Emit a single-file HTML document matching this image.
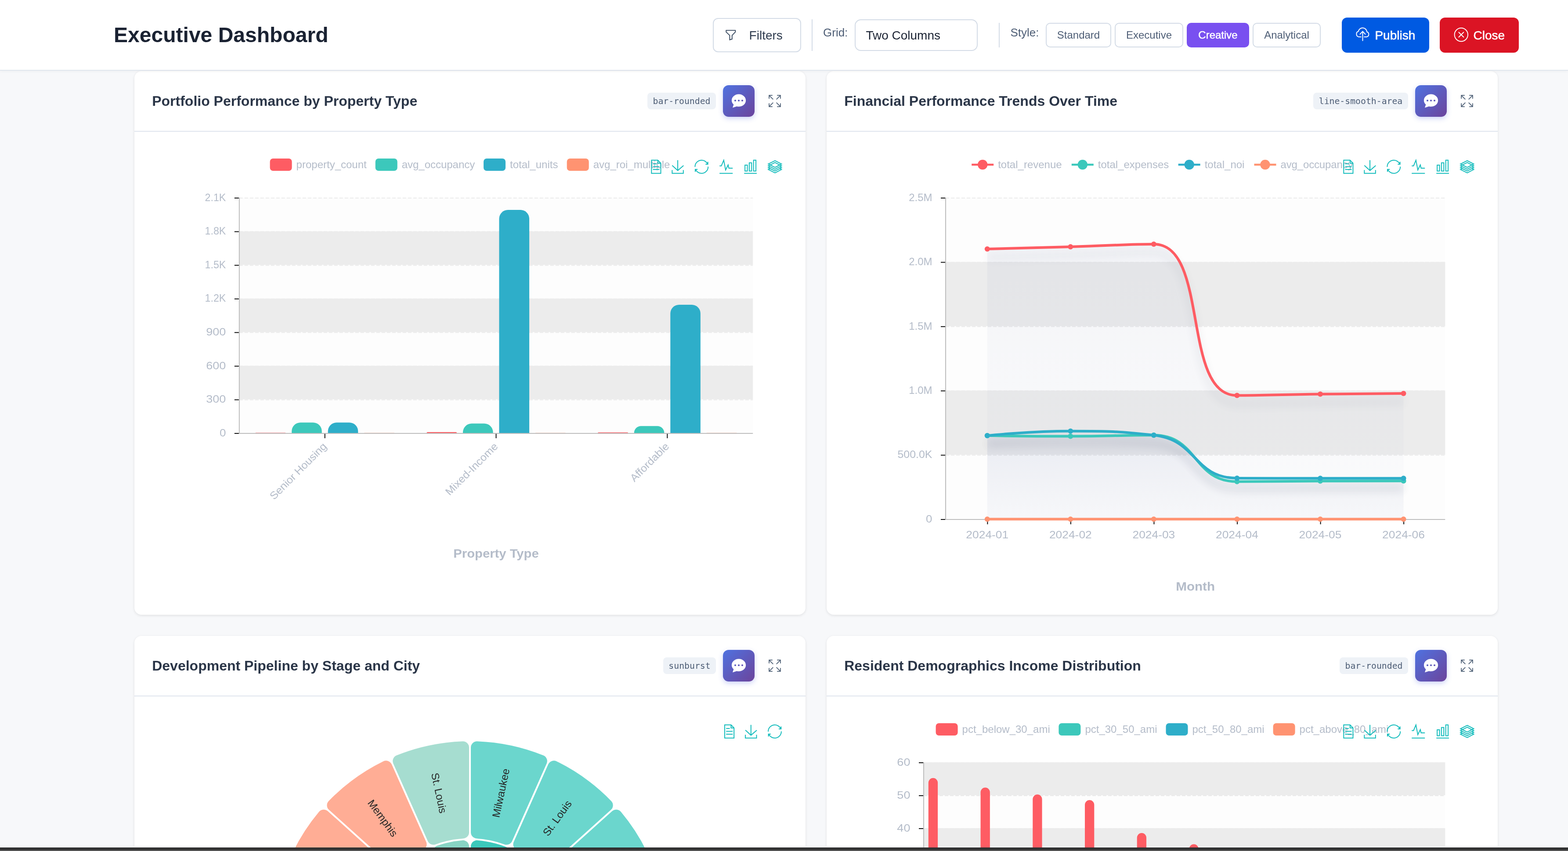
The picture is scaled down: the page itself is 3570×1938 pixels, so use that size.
<!DOCTYPE html>
<html lang="en"><head><meta charset="utf-8">
<title>Executive Dashboard</title>
<style>
*{box-sizing:border-box;margin:0;padding:0}
html,body{width:3570px;height:1938px;overflow:hidden;background:#f7f8fa;font-family:"Liberation Sans", Arial, Helvetica, sans-serif;-webkit-font-smoothing:antialiased}
body{position:relative}
button{font-family:inherit;cursor:pointer}
@media (max-width:1800px){html{zoom:.5}}
.hdr{position:absolute;left:0;top:0;width:3570px;height:161px;background:#fff;border-bottom:2px solid #e0e6ee;box-shadow:0 2px 6px rgba(0,0,0,.04);z-index:5}
.hdr h1{position:absolute;left:259px;top:55.5px;font-size:48px;line-height:48px;font-weight:bold;color:#1a2232;white-space:nowrap;letter-spacing:0.02px}
.btn{position:absolute;display:block;border:2px solid #d3dbe6;background:#fff;border-radius:12px;color:#2d3a4d;white-space:nowrap}
.btn span,.lbl,.sel span{position:absolute;white-space:nowrap}
.vr{position:absolute;width:2px;background:#d3dbe6}
.lbl{font-size:26px;line-height:26px;color:#4d5d75}
.sb{position:absolute;top:52px;height:56px;border:2px solid #d3dbe6;border-radius:10px;background:#fff;font-size:24px;line-height:52px;text-align:center;color:#4d5d75;white-space:nowrap}
.sb.on{background:#7950f0;border-color:#7950f0;color:#fff;-webkit-text-stroke:0.5px #fff}
.big{position:absolute;top:40px;height:80px;border-radius:12px;color:#fff}
.big span{position:absolute;top:24.8px;font-size:28px;line-height:32px;white-space:nowrap;-webkit-text-stroke:0.6px #fff}
.big svg{position:absolute}
.card{position:absolute;width:1528px;height:1238px;background:#fff;border-radius:16px;box-shadow:0 2px 6px rgba(0,0,0,.09),0 0 2px rgba(0,0,0,.03)}
.card .ch{position:absolute;left:0;top:0;width:1528px;height:138px;border-bottom:2px solid #dfe5ee}
.card h3{position:absolute;left:40.2px;top:52px;font-size:32px;line-height:32px;font-weight:bold;color:#2b3648;white-space:nowrap}
.badge{position:absolute;top:49px;height:38px;background:#eef2f7;border-radius:8px;font-family:"DejaVu Sans Mono", "Liberation Mono", monospace;font-size:19.8px;line-height:40px;color:#4d5d75;text-align:center;white-space:nowrap;letter-spacing:0}
.chat{position:absolute;left:1340px;top:32px;width:72px;height:72px;border-radius:13px;background:linear-gradient(135deg,#4f72e0 0%,#6c449c 100%);box-shadow:0 4px 12px rgba(90,110,230,.30)}
.chat svg{position:absolute;left:0;top:0}
.exp{position:absolute;left:1443px;top:53px;width:30px;height:30px}
.card>svg.chart{position:absolute;left:0;top:0;overflow:hidden}
.card>svg.chart text{font-family:"Liberation Sans", Arial, Helvetica, sans-serif}
.glow{position:absolute;left:0;top:1929px;width:3570px;height:1px;background:#151515;mix-blend-mode:color-dodge}
.bot{position:absolute;left:0;top:1930px;width:3570px;height:8px;background:linear-gradient(#1e2022 0,#1e2022 1px,#323232 1px,#343434 5.6px,#5c5c5c 6.2px,#5c5c5c 8px)}
</style></head><body>
<header class="hdr">
<h1>Executive Dashboard</h1>
<button class="btn" style="left:1623px;top:41px;width:201px;height:78px"><svg width="30" height="30" viewBox="0 0 30 30" style="position:absolute;left:24px;top:22px"><path d="M4.3 5.2H26.8V9.3L18.8 17.6V26.5L13 28.400V17.6L4.3 9.300Z" fill="none" stroke="#3a4b61" stroke-width="2.1" stroke-linejoin="miter" transform="translate(0.3 -0.7) scale(0.93)"/></svg><span style="left:80.6px;top:21.5px;font-size:28px;line-height:32px">Filters</span></button>
<div class="vr" style="left:1848px;top:44px;height:72px"></div>
<div class="lbl" style="left:1874px;top:60.6px">Grid:</div>
<div class="btn sel" style="left:1946px;top:44px;width:280px;height:72px;border-radius:14px;color:#1a2232"><span style="left:23.4px;top:18.5px;font-size:28px;line-height:32px">Two Columns</span></div>
<div class="vr" style="left:2274px;top:52px;height:56px"></div>
<div class="lbl" style="left:2300.4px;top:60.6px">Style:</div>
<button class="sb" style="left:2381px;width:149px">Standard</button>
<button class="sb" style="left:2538px;width:156px">Executive</button>
<button class="sb on" style="left:2702px;width:142px">Creative</button>
<button class="sb" style="left:2852px;width:155px">Analytical</button>
<button class="big" style="left:3055px;width:199px;background:#005ae2;border:0"><svg width="40" height="40" viewBox="0 0 40 40" style="left:27px;top:19px"><g fill="none" stroke="#fff" stroke-width="2" stroke-linecap="round" stroke-linejoin="round"><path d="M16.8 24.9H11.8A6.5 6.5 0 0 1 10.9 12.3A9.7 9.7 0 0 1 30.1 13.500A5.9 5.9 0 0 1 29.900 24.9H24.1"/><path d="M20.5 33.6V13.2M14.5 18.9L20.5 12.5L26.5 18.9"/></g></svg><span style="left:75.4px">Publish</span></button>
<button class="big" style="left:3278px;width:180px;background:#db1424;border:0"><svg width="40" height="40" viewBox="0 0 40 40" style="left:28.6px;top:18.9px"><g fill="none" stroke="#fff" stroke-width="1.9" stroke-linecap="round"><circle cx="19.800" cy="20" r="15.2"/><path d="M14.3 14.5L25.3 25.5M25.3 14.5L14.3 25.5"/></g></svg><span style="left:76.5px">Close</span></button>
</header>
<main>
<section class="card" style="left:306px;top:162px"><div class="ch"><h3>Portfolio Performance by Property Type</h3><div class="badge" style="left:1168px;width:156px">bar-rounded</div><div class="chat"><svg width="72" height="72" viewBox="0 0 72 72"><path d="M36 20.6c8.9 0 16.1 6.3 16.1 14.1S44.9 48.8 36 48.8c-1.6 0-3.100-.2-4.500-.6L22 51.200l2.400-7.100c-2.800-2.500-4.500-5.800-4.500-9.400 0-7.800 7.200-14.100 16.100-14.100z" fill="#fff"/><circle cx="28" cy="35" r="2.1" fill="#5a5fc0"/><circle cx="36" cy="35" r="2.1" fill="#5e5bbc"/><circle cx="44" cy="35" r="2.1" fill="#6257b7"/></svg></div><svg class="exp" viewBox="0 0 30 30"><g fill="none" stroke="#4f6177" stroke-width="1.8" stroke-linecap="butt"><path d="M9.800 2.100H2.100V9.800M2.300 2.300L11.300 11.300"/><path d="M20.200 2.100H27.900V9.800M27.700 2.300L18.700 11.300"/><path d="M9.800 27.900H2.100V20.200M2.300 27.700L11.300 18.700"/><path d="M20.200 27.900H27.900V20.200M27.700 27.700L18.700 18.700"/></g></svg></div><svg class="chart" width="1528" height="1238" viewBox="306 162 1528 1238">
<rect x="544.8" y="909.43" width="1169.4" height="76.57" fill="#fdfdfd"/>
<rect x="544.8" y="832.86" width="1169.4" height="76.57" fill="#ececec"/>
<rect x="544.8" y="756.29" width="1169.4" height="76.57" fill="#fdfdfd"/>
<rect x="544.8" y="679.71" width="1169.4" height="76.57" fill="#ececec"/>
<rect x="544.8" y="603.14" width="1169.4" height="76.57" fill="#fdfdfd"/>
<rect x="544.8" y="526.57" width="1169.4" height="76.57" fill="#ececec"/>
<rect x="544.8" y="450" width="1169.4" height="76.57" fill="#fdfdfd"/>
<line x1="544.8" y1="451" x2="1714.2" y2="451" stroke="#ebebeb" stroke-width="2" stroke-dasharray="8 4"/>
<line x1="544.8" y1="527.57" x2="1714.2" y2="527.57" stroke="#ebebeb" stroke-width="2" stroke-dasharray="8 4"/>
<line x1="544.8" y1="604.14" x2="1714.2" y2="604.14" stroke="#ebebeb" stroke-width="2" stroke-dasharray="8 4"/>
<line x1="544.8" y1="680.71" x2="1714.2" y2="680.71" stroke="#ebebeb" stroke-width="2" stroke-dasharray="8 4"/>
<line x1="544.8" y1="757.29" x2="1714.2" y2="757.29" stroke="#ebebeb" stroke-width="2" stroke-dasharray="8 4"/>
<line x1="544.8" y1="833.86" x2="1714.2" y2="833.86" stroke="#ebebeb" stroke-width="2" stroke-dasharray="8 4"/>
<line x1="544.8" y1="910.43" x2="1714.2" y2="910.43" stroke="#ebebeb" stroke-width="2" stroke-dasharray="8 4"/>
<line x1="544.8" y1="450" x2="544.8" y2="988" stroke="#bdbdbd" stroke-width="2"/>
<line x1="544.8" y1="987" x2="1714.2" y2="987" stroke="#bdbdbd" stroke-width="2"/>
<line x1="533.8" y1="451" x2="543.8" y2="451" stroke="#111" stroke-width="2"/>
<text transform="translate(514.3 457.7) scale(0.967 1)" font-size="24" fill="#b4bcc9" text-anchor="end" font-weight="normal">2.1K</text>
<line x1="533.8" y1="527.57" x2="543.8" y2="527.57" stroke="#111" stroke-width="2"/>
<text transform="translate(514.3 534.27) scale(0.967 1)" font-size="24" fill="#b4bcc9" text-anchor="end" font-weight="normal">1.8K</text>
<line x1="533.8" y1="604.14" x2="543.8" y2="604.14" stroke="#111" stroke-width="2"/>
<text transform="translate(514.3 610.84) scale(0.967 1)" font-size="24" fill="#b4bcc9" text-anchor="end" font-weight="normal">1.5K</text>
<line x1="533.8" y1="680.71" x2="543.8" y2="680.71" stroke="#111" stroke-width="2"/>
<text transform="translate(514.3 687.41) scale(0.967 1)" font-size="24" fill="#b4bcc9" text-anchor="end" font-weight="normal">1.2K</text>
<line x1="533.8" y1="757.29" x2="543.8" y2="757.29" stroke="#111" stroke-width="2"/>
<text transform="translate(514.3 763.99) scale(1.125 1)" font-size="24" fill="#b4bcc9" text-anchor="end" font-weight="normal">900</text>
<line x1="533.8" y1="833.86" x2="543.8" y2="833.86" stroke="#111" stroke-width="2"/>
<text transform="translate(514.3 840.56) scale(1.125 1)" font-size="24" fill="#b4bcc9" text-anchor="end" font-weight="normal">600</text>
<line x1="533.8" y1="910.43" x2="543.8" y2="910.43" stroke="#111" stroke-width="2"/>
<text transform="translate(514.3 917.13) scale(1.125 1)" font-size="24" fill="#b4bcc9" text-anchor="end" font-weight="normal">300</text>
<line x1="533.8" y1="987" x2="543.8" y2="987" stroke="#111" stroke-width="2"/>
<text transform="translate(514.3 993.7) scale(1.080 1)" font-size="24" fill="#b4bcc9" text-anchor="end" font-weight="normal">0</text>
<line x1="739.7" y1="988" x2="739.7" y2="998" stroke="#111" stroke-width="2"/>
<line x1="1129.5" y1="988" x2="1129.5" y2="998" stroke="#111" stroke-width="2"/>
<line x1="1519.3" y1="988" x2="1519.3" y2="998" stroke="#111" stroke-width="2"/>
<path d="M581.65 986V986A0.38 0.38 0 0 1 582.03 985.62H649.87A0.38 0.38 0 0 1 650.25 986V986Z" fill="#fe5c63"/>
<path d="M664.15 986V982.26A20 20 0 0 1 684.15 962.26H712.75A20 20 0 0 1 732.75 982.26V986Z" fill="#3cc8bb"/>
<path d="M746.65 986V982.26A20 20 0 0 1 766.65 962.26H795.25A20 20 0 0 1 815.25 982.26V986Z" fill="#2eaec9"/>
<path d="M829.15 986V986A0.2 0.2 0 0 1 829.35 985.8H897.55A0.2 0.2 0 0 1 897.75 986V986Z" fill="#ff9371"/>
<path d="M971.45 986V986A2.04 2.04 0 0 1 973.49 983.96H1038.01A2.04 2.04 0 0 1 1040.05 986V986Z" fill="#fe5c63"/>
<path d="M1053.95 986V984.56A20 20 0 0 1 1073.95 964.56H1102.55A20 20 0 0 1 1122.55 984.56V986Z" fill="#3cc8bb"/>
<path d="M1136.45 986V498.08A20 20 0 0 1 1156.45 478.08H1185.05A20 20 0 0 1 1205.05 498.08V986Z" fill="#2eaec9"/>
<path d="M1218.95 986V986A0.2 0.2 0 0 1 1219.15 985.8H1287.35A0.2 0.2 0 0 1 1287.55 986V986Z" fill="#ff9371"/>
<path d="M1361.25 986V986A1.15 1.15 0 0 1 1362.4 984.85H1428.7A1.15 1.15 0 0 1 1429.85 986V986Z" fill="#fe5c63"/>
<path d="M1443.75 986V986A15.82 15.82 0 0 1 1459.57 970.18H1496.53A15.82 15.82 0 0 1 1512.35 986V986Z" fill="#3cc8bb"/>
<path d="M1526.25 986V714.01A20 20 0 0 1 1546.25 694.01H1574.85A20 20 0 0 1 1594.85 714.01V986Z" fill="#2eaec9"/>
<path d="M1608.75 986V986A0.2 0.2 0 0 1 1608.95 985.8H1677.15A0.2 0.2 0 0 1 1677.35 986V986Z" fill="#ff9371"/>
<text transform="translate(739.2 1012) rotate(-45) scale(1.045 1)" font-size="24" fill="#b4bcc9" text-anchor="end" x="0" y="8.6">Senior Housing</text>
<text transform="translate(1129 1012) rotate(-45) scale(1.045 1)" font-size="24" fill="#b4bcc9" text-anchor="end" x="0" y="8.6">Mixed-Income</text>
<text transform="translate(1518.8 1012) rotate(-45) scale(1.045 1)" font-size="24" fill="#b4bcc9" text-anchor="end" x="0" y="8.6">Affordable</text>
<text transform="translate(1129.5 1270.2) scale(1.045 1)" font-size="28" fill="#b4bcc9" text-anchor="middle" font-weight="bold">Property Type</text>
<rect x="614.6" y="361" width="50" height="28" rx="7" fill="#fe5c63"/>
<text x="674.6" y="382.9" font-size="24" fill="#b4bcc9" text-anchor="start" font-weight="normal">property_count</text>
<rect x="854.7" y="361" width="50" height="28" rx="7" fill="#3cc8bb"/>
<text x="914.7" y="382.9" font-size="24" fill="#b4bcc9" text-anchor="start" font-weight="normal" textLength="166.5" lengthAdjust="spacing">avg_occupancy</text>
<rect x="1101" y="361" width="50" height="28" rx="7" fill="#2eaec9"/>
<text x="1161" y="382.9" font-size="24" fill="#b4bcc9" text-anchor="start" font-weight="normal">total_units</text>
<rect x="1290.7" y="361" width="50" height="28" rx="7" fill="#ff9371"/>
<text x="1350.7" y="382.9" font-size="24" fill="#b4bcc9" text-anchor="start" font-weight="normal">avg_roi_multiple</text>
<path d="M17.5,17.3H33 M17.5,17.3H33 M45.4,29.5h-28 M11.5,2v56H51V14.8L38.4,2H11.5z M38.4,2.2v12.7H51 M45.4,41.7h-28" transform="translate(1477.16 363.73) scale(0.5357)" fill="none" stroke="#13bcbc" stroke-width="3.73" stroke-linecap="butt" stroke-linejoin="miter"/>
<path d="M4.7,22.9L29.3,45.5L54.7,23.4M4.6,43.6L4.6,58L53.8,58L53.8,43.6M29.2,45.1L29.2,0" transform="translate(1527.96 364.8) scale(0.5172)" fill="none" stroke="#13bcbc" stroke-width="3.87" stroke-linecap="butt" stroke-linejoin="miter"/>
<path d="M3.8,33.4 M47,18.9h9.8V8.7 M56.3,20.1 C52.1,9,40.5,0.6,26.8,2.1C12.6,3.7,1.6,16.2,2.1,30.6 M13,41.1H3.1v10.2 M3.7,39.9c4.2,11.1,15.8,19.5,29.5,18 c14.2-1.6,25.2-14.1,24.7-28.5" transform="translate(1581.29 363.79) scale(0.5338)" fill="none" stroke="#13bcbc" stroke-width="3.75" stroke-linecap="butt" stroke-linejoin="miter"/>
<path d="M4.1,28.9h7.1l9.3-22l7.4,38l9.7-19.7l3,12.8h14.9M4.1,58h51.4" transform="translate(1635.81 360.86) scale(0.5837)" fill="none" stroke="#13bcbc" stroke-width="3.43" stroke-linecap="butt" stroke-linejoin="miter"/>
<path d="M6.7,22.9h10V48h-10V22.9zM24.9,13h10v35h-10V13zM43.2,2h10v46h-10V2zM3.1,58h53.7" transform="translate(1692.56 363.73) scale(0.5357)" fill="none" stroke="#13bcbc" stroke-width="3.73" stroke-linecap="butt" stroke-linejoin="miter"/>
<path d="M8.2,38.4l-8.4,4.1l30.6,15.3L60,42.5l-8.1-4.1l-21.5,11L8.2,38.4z M51.9,30l-8.1,4.2l-13.4,6.9l-13.9-6.9L8.2,30l-8.4,4.2l8.4,4.2l22.2,11l21.5-11l8.1-4.2L51.9,30z M51.9,21.7l-8.1,4.2L35.7,30l-5.3,2.8L24.9,30l-8.4-4.1l-8.3-4.2l-8.4,4.2L8.2,30l8.3,4.2l13.9,6.9l13.4-6.9l8.1-4.2l8.1-4.1L51.9,21.7zm-8.1,4.2l-8.1,4.2l-5.3,2.7L24.9,30l-8.4-4.1L8.2,21.7l22.2-11l21.5,11L43.8,25.9z M30.4,2.2L-0.2,17.5l8.4,4.1l8.3,4.2l8.4,4.2l5.5,2.7l5.3-2.7l8.1-4.2l8.1-4.2l8.1-4.1L30.4,2.2z" transform="translate(1749.4 364.85) scale(0.4983)" fill="none" stroke="#13bcbc" stroke-width="4.01" stroke-linecap="butt" stroke-linejoin="miter"/></svg></section>
<section class="card" style="left:1882px;top:162px"><div class="ch"><h3>Financial Performance Trends Over Time</h3><div class="badge" style="left:1108px;width:216px">line-smooth-area</div><div class="chat"><svg width="72" height="72" viewBox="0 0 72 72"><path d="M36 20.6c8.9 0 16.1 6.3 16.1 14.1S44.9 48.8 36 48.8c-1.6 0-3.100-.2-4.500-.6L22 51.200l2.400-7.100c-2.800-2.500-4.500-5.800-4.500-9.400 0-7.800 7.200-14.100 16.100-14.100z" fill="#fff"/><circle cx="28" cy="35" r="2.1" fill="#5a5fc0"/><circle cx="36" cy="35" r="2.1" fill="#5e5bbc"/><circle cx="44" cy="35" r="2.1" fill="#6257b7"/></svg></div><svg class="exp" viewBox="0 0 30 30"><g fill="none" stroke="#4f6177" stroke-width="1.8" stroke-linecap="butt"><path d="M9.800 2.100H2.100V9.800M2.300 2.300L11.300 11.300"/><path d="M20.200 2.100H27.900V9.800M27.700 2.300L18.700 11.300"/><path d="M9.800 27.900H2.100V20.200M2.300 27.700L11.300 18.700"/><path d="M20.200 27.900H27.900V20.200M27.700 27.700L18.700 18.700"/></g></svg></div><svg class="chart" width="1528" height="1238" viewBox="1882 162 1528 1238"><defs>
<linearGradient id="ag0" x1="0" y1="0" x2="0" y2="1"><stop offset="0" stop-color="#52649f" stop-opacity="0.056"/><stop offset="1" stop-color="#52649f" stop-opacity="0.013"/></linearGradient>
<linearGradient id="ag1" x1="0" y1="0" x2="0" y2="1"><stop offset="0" stop-color="#52649f" stop-opacity="0.046"/><stop offset="1" stop-color="#52649f" stop-opacity="0.012"/></linearGradient>
<linearGradient id="ag2" x1="0" y1="0" x2="0" y2="1"><stop offset="0" stop-color="#52649f" stop-opacity="0.046"/><stop offset="1" stop-color="#52649f" stop-opacity="0.012"/></linearGradient>
<filter id="lsh" filterUnits="userSpaceOnUse" x="2100" y="380" width="1300" height="900"><feGaussianBlur stdDeviation="9.5"/></filter>
</defs>
<rect x="2153" y="1035.6" width="1137.3" height="146.4" fill="#fdfdfd"/>
<rect x="2153" y="889.2" width="1137.3" height="146.4" fill="#ececec"/>
<rect x="2153" y="742.8" width="1137.3" height="146.4" fill="#fdfdfd"/>
<rect x="2153" y="596.4" width="1137.3" height="146.4" fill="#ececec"/>
<rect x="2153" y="450" width="1137.3" height="146.4" fill="#fdfdfd"/>
<line x1="2153" y1="451" x2="3290.3" y2="451" stroke="#ebebeb" stroke-width="2" stroke-dasharray="8 4"/>
<line x1="2153" y1="597.4" x2="3290.3" y2="597.4" stroke="#ebebeb" stroke-width="2" stroke-dasharray="8 4"/>
<line x1="2153" y1="743.8" x2="3290.3" y2="743.8" stroke="#ebebeb" stroke-width="2" stroke-dasharray="8 4"/>
<line x1="2153" y1="890.2" x2="3290.3" y2="890.2" stroke="#ebebeb" stroke-width="2" stroke-dasharray="8 4"/>
<line x1="2153" y1="1036.6" x2="3290.3" y2="1036.6" stroke="#ebebeb" stroke-width="2" stroke-dasharray="8 4"/>
<line x1="2153" y1="450" x2="2153" y2="1184" stroke="#bdbdbd" stroke-width="2"/>
<line x1="2153" y1="1183" x2="3290.3" y2="1183" stroke="#bdbdbd" stroke-width="2"/>
<line x1="2142" y1="451" x2="2152" y2="451" stroke="#111" stroke-width="2"/>
<text transform="translate(2122.5 457.7) scale(1.000 1)" font-size="24" fill="#b4bcc9" text-anchor="end" font-weight="normal">2.5M</text>
<line x1="2142" y1="597.4" x2="2152" y2="597.4" stroke="#111" stroke-width="2"/>
<text transform="translate(2122.5 604.1) scale(1.000 1)" font-size="24" fill="#b4bcc9" text-anchor="end" font-weight="normal">2.0M</text>
<line x1="2142" y1="743.8" x2="2152" y2="743.8" stroke="#111" stroke-width="2"/>
<text transform="translate(2122.5 750.5) scale(1.000 1)" font-size="24" fill="#b4bcc9" text-anchor="end" font-weight="normal">1.5M</text>
<line x1="2142" y1="890.2" x2="2152" y2="890.2" stroke="#111" stroke-width="2"/>
<text transform="translate(2122.5 896.9) scale(1.000 1)" font-size="24" fill="#b4bcc9" text-anchor="end" font-weight="normal">1.0M</text>
<line x1="2142" y1="1036.6" x2="2152" y2="1036.6" stroke="#111" stroke-width="2"/>
<text transform="translate(2122.5 1043.3) scale(1.040 1)" font-size="24" fill="#b4bcc9" text-anchor="end" font-weight="normal">500.0K</text>
<line x1="2142" y1="1183" x2="2152" y2="1183" stroke="#111" stroke-width="2"/>
<text transform="translate(2122.5 1189.7) scale(1.080 1)" font-size="24" fill="#b4bcc9" text-anchor="end" font-weight="normal">0</text>
<line x1="2248.38" y1="1184" x2="2248.38" y2="1194" stroke="#111" stroke-width="2"/>
<line x1="2437.92" y1="1184" x2="2437.92" y2="1194" stroke="#111" stroke-width="2"/>
<line x1="2627.47" y1="1184" x2="2627.47" y2="1194" stroke="#111" stroke-width="2"/>
<line x1="2817.03" y1="1184" x2="2817.03" y2="1194" stroke="#111" stroke-width="2"/>
<line x1="3006.58" y1="1184" x2="3006.58" y2="1194" stroke="#111" stroke-width="2"/>
<line x1="3196.13" y1="1184" x2="3196.13" y2="1194" stroke="#111" stroke-width="2"/>
<path d="M2247.78 567C2247.78 567 2342.56 564.75 2437.32 562C2532.11 559.25 2565.21 556 2626.88 556C2754.76 556 2688.53 900.6 2816.43 900.6C2878.08 900.6 2911.2 898.65 3005.98 897.5C3100.75 896.35 3195.53 896 3195.53 896L3195.53 1183L2247.78 1183Z" fill="url(#ag0)"/>
<path d="M2247.78 992.1C2247.78 992.1 2342.55 993.6 2437.32 993.6C2532.1 993.6 2538.5 991 2626.88 991C2728.05 991 2715.25 1096.7 2816.43 1096.7C2904.8 1096.7 2911.2 1095.9 3005.98 1095.6C3100.75 1095.3 3195.53 1095.3 3195.53 1095.3L3195.53 1183L2247.78 1183Z" fill="url(#ag1)"/>
<path d="M2247.78 992.1C2247.78 992.1 2342.54 981.8 2437.32 981.8C2532.09 981.8 2537.64 981.8 2626.88 991C2727.19 1001.34 2716.05 1088.56 2816.43 1088.9C2905.6 1089.2 2911.2 1089.2 3005.98 1089.2C3100.75 1089.2 3195.53 1089.2 3195.53 1089.2L3195.53 1183L2247.78 1183Z" fill="url(#ag2)"/>
<g opacity="0.078"><path d="M2247.78 567C2247.78 567 2342.56 564.75 2437.32 562C2532.11 559.25 2565.21 556 2626.88 556C2754.76 556 2688.53 900.6 2816.43 900.6C2878.08 900.6 2911.2 898.65 3005.98 897.5C3100.75 896.35 3195.53 896 3195.53 896" fill="none" stroke="#3b4460" stroke-width="12" transform="translate(0 19)" filter="url(#lsh)"/></g><g opacity="0.078"><path d="M2247.78 992.1C2247.78 992.1 2342.55 993.6 2437.32 993.6C2532.1 993.6 2538.5 991 2626.88 991C2728.05 991 2715.25 1096.7 2816.43 1096.7C2904.8 1096.7 2911.2 1095.9 3005.98 1095.6C3100.75 1095.3 3195.53 1095.3 3195.53 1095.3" fill="none" stroke="#3b4460" stroke-width="12" transform="translate(0 19)" filter="url(#lsh)"/></g><g opacity="0.078"><path d="M2247.78 992.1C2247.78 992.1 2342.54 981.8 2437.32 981.8C2532.09 981.8 2537.64 981.8 2626.88 991C2727.19 1001.34 2716.05 1088.56 2816.43 1088.9C2905.6 1089.2 2911.2 1089.2 3005.98 1089.2C3100.75 1089.2 3195.53 1089.2 3195.53 1089.2" fill="none" stroke="#3b4460" stroke-width="12" transform="translate(0 19)" filter="url(#lsh)"/></g>
<path d="M2247.78 567C2247.78 567 2342.56 564.75 2437.32 562C2532.11 559.25 2565.21 556 2626.88 556C2754.76 556 2688.53 900.6 2816.43 900.6C2878.08 900.6 2911.2 898.65 3005.98 897.5C3100.75 896.35 3195.53 896 3195.53 896" fill="none" stroke="#fe5c63" stroke-width="6" stroke-linejoin="round" stroke-linecap="butt"/>
<path d="M2247.78 992.1C2247.78 992.1 2342.55 993.6 2437.32 993.6C2532.1 993.6 2538.5 991 2626.88 991C2728.05 991 2715.25 1096.7 2816.43 1096.7C2904.8 1096.7 2911.2 1095.9 3005.98 1095.6C3100.75 1095.3 3195.53 1095.3 3195.53 1095.3" fill="none" stroke="#3cc8bb" stroke-width="6" stroke-linejoin="round" stroke-linecap="butt"/>
<path d="M2247.78 992.1C2247.78 992.1 2342.54 981.8 2437.32 981.8C2532.09 981.8 2537.64 981.8 2626.88 991C2727.19 1001.34 2716.05 1088.56 2816.43 1088.9C2905.6 1089.2 2911.2 1089.2 3005.98 1089.2C3100.75 1089.2 3195.53 1089.2 3195.53 1089.2" fill="none" stroke="#2eaec9" stroke-width="6" stroke-linejoin="round" stroke-linecap="butt"/>
<path d="M2247.78 1182.3C2247.78 1182.3 2342.55 1182.3 2437.32 1182.3C2532.1 1182.3 2532.1 1182.3 2626.88 1182.3C2721.65 1182.3 2721.65 1182.3 2816.43 1182.3C2911.2 1182.3 2911.2 1182.3 3005.98 1182.3C3100.75 1182.3 3195.53 1182.3 3195.53 1182.3" fill="none" stroke="#ff9371" stroke-width="6" stroke-linejoin="round" stroke-linecap="butt"/>
<circle cx="2247.78" cy="567" r="6" fill="#fe5c63"/>
<circle cx="2437.32" cy="562" r="6" fill="#fe5c63"/>
<circle cx="2626.88" cy="556" r="6" fill="#fe5c63"/>
<circle cx="2816.43" cy="900.6" r="6" fill="#fe5c63"/>
<circle cx="3005.98" cy="897.5" r="6" fill="#fe5c63"/>
<circle cx="3195.53" cy="896" r="6" fill="#fe5c63"/>
<circle cx="2247.78" cy="992.1" r="6" fill="#3cc8bb"/>
<circle cx="2437.32" cy="993.6" r="6" fill="#3cc8bb"/>
<circle cx="2626.88" cy="991" r="6" fill="#3cc8bb"/>
<circle cx="2816.43" cy="1096.7" r="6" fill="#3cc8bb"/>
<circle cx="3005.98" cy="1095.6" r="6" fill="#3cc8bb"/>
<circle cx="3195.53" cy="1095.3" r="6" fill="#3cc8bb"/>
<circle cx="2247.78" cy="992.1" r="6" fill="#2eaec9"/>
<circle cx="2437.32" cy="981.8" r="6" fill="#2eaec9"/>
<circle cx="2626.88" cy="991" r="6" fill="#2eaec9"/>
<circle cx="2816.43" cy="1088.9" r="6" fill="#2eaec9"/>
<circle cx="3005.98" cy="1089.2" r="6" fill="#2eaec9"/>
<circle cx="3195.53" cy="1089.2" r="6" fill="#2eaec9"/>
<circle cx="2247.78" cy="1182.3" r="6" fill="#ff9371"/>
<circle cx="2437.32" cy="1182.3" r="6" fill="#ff9371"/>
<circle cx="2626.88" cy="1182.3" r="6" fill="#ff9371"/>
<circle cx="2816.43" cy="1182.3" r="6" fill="#ff9371"/>
<circle cx="3005.98" cy="1182.3" r="6" fill="#ff9371"/>
<circle cx="3195.53" cy="1182.3" r="6" fill="#ff9371"/>
<text transform="translate(2247.78 1226.2) scale(1.100 1)" font-size="24" fill="#b4bcc9" text-anchor="middle" font-weight="normal">2024-01</text>
<text transform="translate(2437.32 1226.2) scale(1.100 1)" font-size="24" fill="#b4bcc9" text-anchor="middle" font-weight="normal">2024-02</text>
<text transform="translate(2626.88 1226.2) scale(1.100 1)" font-size="24" fill="#b4bcc9" text-anchor="middle" font-weight="normal">2024-03</text>
<text transform="translate(2816.43 1226.2) scale(1.100 1)" font-size="24" fill="#b4bcc9" text-anchor="middle" font-weight="normal">2024-04</text>
<text transform="translate(3005.98 1226.2) scale(1.100 1)" font-size="24" fill="#b4bcc9" text-anchor="middle" font-weight="normal">2024-05</text>
<text transform="translate(3195.53 1226.2) scale(1.100 1)" font-size="24" fill="#b4bcc9" text-anchor="middle" font-weight="normal">2024-06</text>
<text transform="translate(2721.65 1344.6) scale(1.060 1)" font-size="28" fill="#b4bcc9" text-anchor="middle" font-weight="bold">Month</text>
<line x1="2212.2" y1="375" x2="2262.2" y2="375" stroke="#fe5c63" stroke-width="4.6"/>
<circle cx="2237.2" cy="375" r="11.2" fill="#fe5c63"/>
<text x="2272.2" y="382.9" font-size="24" fill="#b4bcc9" text-anchor="start" font-weight="normal">total_revenue</text>
<line x1="2439.8" y1="375" x2="2489.8" y2="375" stroke="#3cc8bb" stroke-width="4.6"/>
<circle cx="2464.8" cy="375" r="11.2" fill="#3cc8bb"/>
<text x="2499.8" y="382.9" font-size="24" fill="#b4bcc9" text-anchor="start" font-weight="normal">total_expenses</text>
<line x1="2682.7" y1="375" x2="2732.7" y2="375" stroke="#2eaec9" stroke-width="4.6"/>
<circle cx="2707.7" cy="375" r="11.2" fill="#2eaec9"/>
<text x="2742.7" y="382.9" font-size="24" fill="#b4bcc9" text-anchor="start" font-weight="normal">total_noi</text>
<line x1="2855.5" y1="375" x2="2905.5" y2="375" stroke="#ff9371" stroke-width="4.6"/>
<circle cx="2880.5" cy="375" r="11.2" fill="#ff9371"/>
<text x="2915.5" y="382.9" font-size="24" fill="#b4bcc9" text-anchor="start" font-weight="normal" textLength="165" lengthAdjust="spacing">avg_occupancy</text>
<path d="M17.5,17.3H33 M17.5,17.3H33 M45.4,29.5h-28 M11.5,2v56H51V14.8L38.4,2H11.5z M38.4,2.2v12.7H51 M45.4,41.7h-28" transform="translate(3053.16 363.73) scale(0.5357)" fill="none" stroke="#13bcbc" stroke-width="3.73" stroke-linecap="butt" stroke-linejoin="miter"/>
<path d="M4.7,22.9L29.3,45.5L54.7,23.4M4.6,43.6L4.6,58L53.8,58L53.8,43.6M29.2,45.1L29.2,0" transform="translate(3103.96 364.8) scale(0.5172)" fill="none" stroke="#13bcbc" stroke-width="3.87" stroke-linecap="butt" stroke-linejoin="miter"/>
<path d="M3.8,33.4 M47,18.9h9.8V8.7 M56.3,20.1 C52.1,9,40.5,0.6,26.8,2.1C12.6,3.7,1.6,16.2,2.1,30.6 M13,41.1H3.1v10.2 M3.7,39.9c4.2,11.1,15.8,19.5,29.5,18 c14.2-1.6,25.2-14.1,24.7-28.5" transform="translate(3157.29 363.79) scale(0.5338)" fill="none" stroke="#13bcbc" stroke-width="3.75" stroke-linecap="butt" stroke-linejoin="miter"/>
<path d="M4.1,28.9h7.1l9.3-22l7.4,38l9.7-19.7l3,12.8h14.9M4.1,58h51.4" transform="translate(3211.81 360.86) scale(0.5837)" fill="none" stroke="#13bcbc" stroke-width="3.43" stroke-linecap="butt" stroke-linejoin="miter"/>
<path d="M6.7,22.9h10V48h-10V22.9zM24.9,13h10v35h-10V13zM43.2,2h10v46h-10V2zM3.1,58h53.7" transform="translate(3268.56 363.73) scale(0.5357)" fill="none" stroke="#13bcbc" stroke-width="3.73" stroke-linecap="butt" stroke-linejoin="miter"/>
<path d="M8.2,38.4l-8.4,4.1l30.6,15.3L60,42.5l-8.1-4.1l-21.5,11L8.2,38.4z M51.9,30l-8.1,4.2l-13.4,6.9l-13.9-6.9L8.2,30l-8.4,4.2l8.4,4.2l22.2,11l21.5-11l8.1-4.2L51.9,30z M51.9,21.7l-8.1,4.2L35.7,30l-5.3,2.8L24.9,30l-8.4-4.1l-8.3-4.2l-8.4,4.2L8.2,30l8.3,4.2l13.9,6.9l13.4-6.9l8.1-4.2l8.1-4.1L51.9,21.7zm-8.1,4.2l-8.1,4.2l-5.3,2.7L24.9,30l-8.4-4.1L8.2,21.7l22.2-11l21.5,11L43.8,25.9z M30.4,2.2L-0.2,17.5l8.4,4.1l8.3,4.2l8.4,4.2l5.5,2.7l5.3-2.7l8.1-4.2l8.1-4.2l8.1-4.1L30.4,2.2z" transform="translate(3325.4 364.85) scale(0.4983)" fill="none" stroke="#13bcbc" stroke-width="4.01" stroke-linecap="butt" stroke-linejoin="miter"/></svg></section>
<section class="card" style="left:306px;top:1448px"><div class="ch"><h3>Development Pipeline by Stage and City</h3><div class="badge" style="left:1204px;width:120px">sunburst</div><div class="chat"><svg width="72" height="72" viewBox="0 0 72 72"><path d="M36 20.6c8.9 0 16.1 6.3 16.1 14.1S44.9 48.8 36 48.8c-1.6 0-3.100-.2-4.500-.6L22 51.200l2.400-7.100c-2.800-2.500-4.500-5.800-4.500-9.400 0-7.800 7.200-14.100 16.100-14.100z" fill="#fff"/><circle cx="28" cy="35" r="2.1" fill="#5a5fc0"/><circle cx="36" cy="35" r="2.1" fill="#5e5bbc"/><circle cx="44" cy="35" r="2.1" fill="#6257b7"/></svg></div><svg class="exp" viewBox="0 0 30 30"><g fill="none" stroke="#4f6177" stroke-width="1.8" stroke-linecap="butt"><path d="M9.800 2.100H2.100V9.800M2.300 2.300L11.300 11.300"/><path d="M20.200 2.100H27.900V9.800M27.700 2.300L18.700 11.300"/><path d="M9.800 27.900H2.100V20.200M2.300 27.700L11.300 18.700"/><path d="M20.200 27.900H27.900V20.200M27.700 27.700L18.700 18.700"/></g></svg></div><svg class="chart" width="1528" height="1238" viewBox="306 1448 1528 1238">
<path d="M1069.23 2134.07L862.55 2155.79A14 14 0 0 1 847.09 2142.26A223 223 0 0 1 963.97 1939.82A14 14 0 0 1 983.41 1946.44L1067.94 2136.3A14 14 0 0 1 1068.14 2136.75A2.01 2.01 0 0 0 1069.72 2134.01A14 14 0 0 1 1069.23 2134.07Z" fill="#ff9371"/>
<path d="M1071.6 2134.67L987.07 1944.82A14 14 0 0 1 995.16 1925.93A223 223 0 0 1 1052.93 1913.65A14 14 0 0 1 1068 1927.61L1068 2135.43A14 14 0 0 1 1067.99 2135.93A2.01 2.01 0 0 0 1071.81 2135.12A14 14 0 0 1 1071.6 2134.67Z" fill="#88d4c4"/>
<path d="M1072 2135.43L1072 1927.61A14 14 0 0 1 1087.07 1913.65A223 223 0 0 1 1292.91 2142.26A14 14 0 0 1 1277.45 2155.79L1070.77 2134.07A14 14 0 0 1 1070.28 2134.01A2.01 2.01 0 0 0 1072.01 2135.93A14 14 0 0 1 1072 2135.43Z" fill="#3cc8bb"/>
<path d="M841.92 2059.79L658.14 2000.08A14 14 0 0 1 649.32 1981.95A448 448 0 0 1 726.25 1848.71A14 14 0 0 1 746.36 1847.28L889.96 1976.58A14 14 0 0 1 891.59 1995.64A227 227 0 0 0 859.24 2051.67A14 14 0 0 1 841.92 2059.79Z" fill="#ffad95"/>
<path d="M892.64 1973.61L749.03 1844.31A14 14 0 0 1 748.35 1824.16A448 448 0 0 1 872.82 1733.73A14 14 0 0 1 891.77 1740.6L970.37 1917.13A14 14 0 0 1 964.11 1935.21A227 227 0 0 0 911.76 1973.24A14 14 0 0 1 892.64 1973.61Z" fill="#ffad95"/>
<path d="M974.02 1915.51L895.42 1738.98A14 14 0 0 1 902.99 1720.29A448 448 0 0 1 1053.48 1688.3A14 14 0 0 1 1068 1702.3L1068 1895.53A14 14 0 0 1 1054.93 1909.5A227 227 0 0 0 991.64 1922.95A14 14 0 0 1 974.02 1915.51Z" fill="#a6ddd0"/>
<path d="M1072 1895.53L1072 1702.3A14 14 0 0 1 1086.52 1688.3A448 448 0 0 1 1237.01 1720.29A14 14 0 0 1 1244.58 1738.98L1165.98 1915.51A14 14 0 0 1 1148.36 1922.95A227 227 0 0 0 1085.07 1909.5A14 14 0 0 1 1072 1895.53Z" fill="#6bd6cd"/>
<path d="M1169.63 1917.13L1248.23 1740.6A14 14 0 0 1 1267.18 1733.73A448 448 0 0 1 1391.65 1824.16A14 14 0 0 1 1390.97 1844.31L1247.36 1973.61A14 14 0 0 1 1228.24 1973.24A227 227 0 0 0 1175.89 1935.21A14 14 0 0 1 1169.63 1917.13Z" fill="#6bd6cd"/>
<path d="M1250.04 1976.58L1393.64 1847.28A14 14 0 0 1 1413.75 1848.71A448 448 0 0 1 1490.68 1981.95A14 14 0 0 1 1481.86 2000.08L1298.08 2059.79A14 14 0 0 1 1280.76 2051.67A227 227 0 0 0 1248.41 1995.64A14 14 0 0 1 1250.04 1976.58Z" fill="#6bd6cd"/>
<text transform="translate(871.62 1862.96) rotate(54)" font-size="24" fill="#262626" text-anchor="middle" x="0" y="8.6">Memphis</text>
<text transform="translate(999.83 1805.88) rotate(78)" font-size="24" fill="#262626" text-anchor="middle" x="0" y="8.6">St. Louis</text>
<text transform="translate(1140.17 1805.88) rotate(-78)" font-size="24" fill="#262626" text-anchor="middle" x="0" y="8.6">Milwaukee</text>
<text transform="translate(1268.38 1862.96) rotate(-54)" font-size="24" fill="#262626" text-anchor="middle" x="0" y="8.6">St. Louis</text>
<path d="M17.5,17.3H33 M17.5,17.3H33 M45.4,29.5h-28 M11.5,2v56H51V14.8L38.4,2H11.5z M38.4,2.2v12.7H51 M45.4,41.7h-28" transform="translate(1643.86 1649.73) scale(0.5357)" fill="none" stroke="#13bcbc" stroke-width="3.73" stroke-linecap="butt" stroke-linejoin="miter"/>
<path d="M4.7,22.9L29.3,45.5L54.7,23.4M4.6,43.6L4.6,58L53.8,58L53.8,43.6M29.2,45.1L29.2,0" transform="translate(1694.66 1650.8) scale(0.5172)" fill="none" stroke="#13bcbc" stroke-width="3.87" stroke-linecap="butt" stroke-linejoin="miter"/>
<path d="M3.8,33.4 M47,18.9h9.8V8.7 M56.3,20.1 C52.1,9,40.5,0.6,26.8,2.1C12.6,3.7,1.6,16.2,2.1,30.6 M13,41.1H3.1v10.2 M3.7,39.9c4.2,11.1,15.8,19.5,29.5,18 c14.2-1.6,25.2-14.1,24.7-28.5" transform="translate(1747.99 1649.79) scale(0.5338)" fill="none" stroke="#13bcbc" stroke-width="3.75" stroke-linecap="butt" stroke-linejoin="miter"/></svg></section>
<section class="card" style="left:1882px;top:1448px"><div class="ch"><h3>Resident Demographics Income Distribution</h3><div class="badge" style="left:1168px;width:156px">bar-rounded</div><div class="chat"><svg width="72" height="72" viewBox="0 0 72 72"><path d="M36 20.6c8.9 0 16.1 6.3 16.1 14.1S44.9 48.8 36 48.8c-1.6 0-3.100-.2-4.500-.6L22 51.200l2.400-7.100c-2.800-2.500-4.500-5.800-4.500-9.400 0-7.800 7.200-14.100 16.100-14.100z" fill="#fff"/><circle cx="28" cy="35" r="2.1" fill="#5a5fc0"/><circle cx="36" cy="35" r="2.1" fill="#5e5bbc"/><circle cx="44" cy="35" r="2.1" fill="#6257b7"/></svg></div><svg class="exp" viewBox="0 0 30 30"><g fill="none" stroke="#4f6177" stroke-width="1.8" stroke-linecap="butt"><path d="M9.800 2.100H2.100V9.800M2.300 2.300L11.300 11.300"/><path d="M20.200 2.100H27.900V9.800M27.700 2.300L18.700 11.300"/><path d="M9.800 27.900H2.100V20.200M2.300 27.700L11.300 18.700"/><path d="M20.200 27.900H27.900V20.200M27.700 27.700L18.700 18.700"/></g></svg></div><svg class="chart" width="1528" height="1238" viewBox="1882 1448 1528 1238">
<rect x="2103" y="2111" width="1187.3" height="75" fill="#fdfdfd"/>
<rect x="2103" y="2036" width="1187.3" height="75" fill="#ececec"/>
<rect x="2103" y="1961" width="1187.3" height="75" fill="#fdfdfd"/>
<rect x="2103" y="1886" width="1187.3" height="75" fill="#ececec"/>
<rect x="2103" y="1811" width="1187.3" height="75" fill="#fdfdfd"/>
<rect x="2103" y="1736" width="1187.3" height="75" fill="#ececec"/>
<line x1="2103" y1="1737" x2="3290.3" y2="1737" stroke="#ebebeb" stroke-width="2" stroke-dasharray="8 4"/>
<line x1="2103" y1="1812" x2="3290.3" y2="1812" stroke="#ebebeb" stroke-width="2" stroke-dasharray="8 4"/>
<line x1="2103" y1="1887" x2="3290.3" y2="1887" stroke="#ebebeb" stroke-width="2" stroke-dasharray="8 4"/>
<line x1="2103" y1="1962" x2="3290.3" y2="1962" stroke="#ebebeb" stroke-width="2" stroke-dasharray="8 4"/>
<line x1="2103" y1="2037" x2="3290.3" y2="2037" stroke="#ebebeb" stroke-width="2" stroke-dasharray="8 4"/>
<line x1="2103" y1="2112" x2="3290.3" y2="2112" stroke="#ebebeb" stroke-width="2" stroke-dasharray="8 4"/>
<line x1="2103" y1="1736" x2="2103" y2="2188" stroke="#bdbdbd" stroke-width="2"/>
<line x1="2103" y1="2187" x2="3290.3" y2="2187" stroke="#bdbdbd" stroke-width="2"/>
<line x1="2092" y1="1737" x2="2102" y2="1737" stroke="#111" stroke-width="2"/>
<text transform="translate(2072.5 1743.7) scale(1.130 1)" font-size="24" fill="#b4bcc9" text-anchor="end" font-weight="normal">60</text>
<line x1="2092" y1="1812" x2="2102" y2="1812" stroke="#111" stroke-width="2"/>
<text transform="translate(2072.5 1818.7) scale(1.130 1)" font-size="24" fill="#b4bcc9" text-anchor="end" font-weight="normal">50</text>
<line x1="2092" y1="1887" x2="2102" y2="1887" stroke="#111" stroke-width="2"/>
<text transform="translate(2072.5 1893.7) scale(1.130 1)" font-size="24" fill="#b4bcc9" text-anchor="end" font-weight="normal">40</text>
<line x1="2092" y1="1962" x2="2102" y2="1962" stroke="#111" stroke-width="2"/>
<line x1="2092" y1="2037" x2="2102" y2="2037" stroke="#111" stroke-width="2"/>
<line x1="2092" y1="2112" x2="2102" y2="2112" stroke="#111" stroke-width="2"/>
<line x1="2092" y1="2187" x2="2102" y2="2187" stroke="#111" stroke-width="2"/>
<line x1="2162.36" y1="2188" x2="2162.36" y2="2198" stroke="#111" stroke-width="2"/>
<line x1="2281.1" y1="2188" x2="2281.1" y2="2198" stroke="#111" stroke-width="2"/>
<line x1="2399.82" y1="2188" x2="2399.82" y2="2198" stroke="#111" stroke-width="2"/>
<line x1="2518.56" y1="2188" x2="2518.56" y2="2198" stroke="#111" stroke-width="2"/>
<line x1="2637.28" y1="2188" x2="2637.28" y2="2198" stroke="#111" stroke-width="2"/>
<line x1="2756.02" y1="2188" x2="2756.02" y2="2198" stroke="#111" stroke-width="2"/>
<line x1="2874.74" y1="2188" x2="2874.74" y2="2198" stroke="#111" stroke-width="2"/>
<line x1="2993.48" y1="2188" x2="2993.48" y2="2198" stroke="#111" stroke-width="2"/>
<line x1="3112.2" y1="2188" x2="3112.2" y2="2198" stroke="#111" stroke-width="2"/>
<line x1="3230.94" y1="2188" x2="3230.94" y2="2198" stroke="#111" stroke-width="2"/>
<path d="M2113.81 2186V1782.5A10.65 10.65 0 0 1 2124.46 1771.85H2124.46A10.65 10.65 0 0 1 2135.11 1782.5V2186Z" fill="#fe5c63"/>
<path d="M2139.41 2186V1971.65A10.65 10.65 0 0 1 2150.06 1961H2150.06A10.65 10.65 0 0 1 2160.71 1971.65V2186Z" fill="#3cc8bb"/>
<path d="M2165.01 2186V2121.65A10.65 10.65 0 0 1 2175.66 2111H2175.66A10.65 10.65 0 0 1 2186.31 2121.65V2186Z" fill="#2eaec9"/>
<path d="M2190.61 2186V2159.15A10.65 10.65 0 0 1 2201.26 2148.5H2201.26A10.65 10.65 0 0 1 2211.91 2159.15V2186Z" fill="#ff9371"/>
<path d="M2232.55 2186V1804.25A10.65 10.65 0 0 1 2243.2 1793.6H2243.2A10.65 10.65 0 0 1 2253.85 1804.25V2186Z" fill="#fe5c63"/>
<path d="M2258.14 2186V1971.65A10.65 10.65 0 0 1 2268.8 1961H2268.8A10.65 10.65 0 0 1 2279.45 1971.65V2186Z" fill="#3cc8bb"/>
<path d="M2283.74 2186V2106.65A10.65 10.65 0 0 1 2294.39 2096H2294.39A10.65 10.65 0 0 1 2305.05 2106.65V2186Z" fill="#2eaec9"/>
<path d="M2309.34 2186V2151.65A10.65 10.65 0 0 1 2319.99 2141H2319.99A10.65 10.65 0 0 1 2330.64 2151.65V2186Z" fill="#ff9371"/>
<path d="M2351.27 2186V1820A10.65 10.65 0 0 1 2361.92 1809.35H2361.92A10.65 10.65 0 0 1 2372.57 1820V2186Z" fill="#fe5c63"/>
<path d="M2376.87 2186V1971.65A10.65 10.65 0 0 1 2387.52 1961H2387.52A10.65 10.65 0 0 1 2398.17 1971.65V2186Z" fill="#3cc8bb"/>
<path d="M2402.47 2186V2091.65A10.65 10.65 0 0 1 2413.12 2081H2413.12A10.65 10.65 0 0 1 2423.77 2091.65V2186Z" fill="#2eaec9"/>
<path d="M2428.07 2186V2151.65A10.65 10.65 0 0 1 2438.72 2141H2438.72A10.65 10.65 0 0 1 2449.37 2151.65V2186Z" fill="#ff9371"/>
<path d="M2470.01 2186V1832.75A10.65 10.65 0 0 1 2480.66 1822.1H2480.66A10.65 10.65 0 0 1 2491.31 1832.75V2186Z" fill="#fe5c63"/>
<path d="M2495.61 2186V1964.15A10.65 10.65 0 0 1 2506.26 1953.5H2506.26A10.65 10.65 0 0 1 2516.91 1964.15V2186Z" fill="#3cc8bb"/>
<path d="M2521.2 2186V2084.15A10.65 10.65 0 0 1 2531.86 2073.5H2531.86A10.65 10.65 0 0 1 2542.51 2084.15V2186Z" fill="#2eaec9"/>
<path d="M2546.8 2186V2151.65A10.65 10.65 0 0 1 2557.45 2141H2557.45A10.65 10.65 0 0 1 2568.11 2151.65V2186Z" fill="#ff9371"/>
<path d="M2588.73 2186V1907.75A10.65 10.65 0 0 1 2599.38 1897.1H2599.38A10.65 10.65 0 0 1 2610.03 1907.75V2186Z" fill="#fe5c63"/>
<path d="M2614.33 2186V1956.65A10.65 10.65 0 0 1 2624.98 1946H2624.98A10.65 10.65 0 0 1 2635.63 1956.65V2186Z" fill="#3cc8bb"/>
<path d="M2639.93 2186V2046.65A10.65 10.65 0 0 1 2650.58 2036H2650.58A10.65 10.65 0 0 1 2661.23 2046.65V2186Z" fill="#2eaec9"/>
<path d="M2665.53 2186V2121.65A10.65 10.65 0 0 1 2676.18 2111H2676.18A10.65 10.65 0 0 1 2686.83 2121.65V2186Z" fill="#ff9371"/>
<path d="M2707.47 2186V1933.25A10.65 10.65 0 0 1 2718.12 1922.6H2718.12A10.65 10.65 0 0 1 2728.77 1933.25V2186Z" fill="#fe5c63"/>
<path d="M2733.07 2186V1956.65A10.65 10.65 0 0 1 2743.72 1946H2743.72A10.65 10.65 0 0 1 2754.37 1956.65V2186Z" fill="#3cc8bb"/>
<path d="M2758.66 2186V2031.65A10.65 10.65 0 0 1 2769.32 2021H2769.32A10.65 10.65 0 0 1 2779.97 2031.65V2186Z" fill="#2eaec9"/>
<path d="M2784.26 2186V2114.15A10.65 10.65 0 0 1 2794.91 2103.5H2794.91A10.65 10.65 0 0 1 2805.57 2114.15V2186Z" fill="#ff9371"/>
<path d="M2826.19 2186V1972.25A10.65 10.65 0 0 1 2836.84 1961.6H2836.84A10.65 10.65 0 0 1 2847.49 1972.25V2186Z" fill="#fe5c63"/>
<path d="M2851.79 2186V1949.15A10.65 10.65 0 0 1 2862.44 1938.5H2862.44A10.65 10.65 0 0 1 2873.09 1949.15V2186Z" fill="#3cc8bb"/>
<path d="M2877.39 2186V2016.65A10.65 10.65 0 0 1 2888.04 2006H2888.04A10.65 10.65 0 0 1 2898.69 2016.65V2186Z" fill="#2eaec9"/>
<path d="M2902.99 2186V2099.15A10.65 10.65 0 0 1 2913.64 2088.5H2913.64A10.65 10.65 0 0 1 2924.29 2099.15V2186Z" fill="#ff9371"/>
<path d="M2944.93 2186V1987.25A10.65 10.65 0 0 1 2955.58 1976.6H2955.58A10.65 10.65 0 0 1 2966.23 1987.25V2186Z" fill="#fe5c63"/>
<path d="M2970.53 2186V1949.15A10.65 10.65 0 0 1 2981.18 1938.5H2981.18A10.65 10.65 0 0 1 2991.83 1949.15V2186Z" fill="#3cc8bb"/>
<path d="M2996.12 2186V2009.15A10.65 10.65 0 0 1 3006.78 1998.5H3006.78A10.65 10.65 0 0 1 3017.43 2009.15V2186Z" fill="#2eaec9"/>
<path d="M3021.72 2186V2091.65A10.65 10.65 0 0 1 3032.38 2081H3032.38A10.65 10.65 0 0 1 3043.03 2091.65V2186Z" fill="#ff9371"/>
<path d="M3063.65 2186V2009.75A10.65 10.65 0 0 1 3074.3 1999.1H3074.3A10.65 10.65 0 0 1 3084.95 2009.75V2186Z" fill="#fe5c63"/>
<path d="M3089.25 2186V1949.15A10.65 10.65 0 0 1 3099.9 1938.5H3099.9A10.65 10.65 0 0 1 3110.55 1949.15V2186Z" fill="#3cc8bb"/>
<path d="M3114.85 2186V2001.65A10.65 10.65 0 0 1 3125.5 1991H3125.5A10.65 10.65 0 0 1 3136.15 2001.65V2186Z" fill="#2eaec9"/>
<path d="M3140.45 2186V2076.65A10.65 10.65 0 0 1 3151.1 2066H3151.1A10.65 10.65 0 0 1 3161.75 2076.65V2186Z" fill="#ff9371"/>
<path d="M3182.39 2186V2032.25A10.65 10.65 0 0 1 3193.04 2021.6H3193.04A10.65 10.65 0 0 1 3203.69 2032.25V2186Z" fill="#fe5c63"/>
<path d="M3207.99 2186V1949.15A10.65 10.65 0 0 1 3218.64 1938.5H3218.64A10.65 10.65 0 0 1 3229.29 1949.15V2186Z" fill="#3cc8bb"/>
<path d="M3233.59 2186V1986.65A10.65 10.65 0 0 1 3244.24 1976H3244.24A10.65 10.65 0 0 1 3254.89 1986.65V2186Z" fill="#2eaec9"/>
<path d="M3259.18 2186V2069.15A10.65 10.65 0 0 1 3269.84 2058.5H3269.84A10.65 10.65 0 0 1 3280.49 2069.15V2186Z" fill="#ff9371"/>
<rect x="2130.6" y="1647" width="50" height="28" rx="7" fill="#fe5c63"/>
<text x="2190.6" y="1668.9" font-size="24" fill="#b4bcc9" text-anchor="start" font-weight="normal">pct_below_30_ami</text>
<rect x="2410.4" y="1647" width="50" height="28" rx="7" fill="#3cc8bb"/>
<text x="2470.4" y="1668.9" font-size="24" fill="#b4bcc9" text-anchor="start" font-weight="normal">pct_30_50_ami</text>
<rect x="2654.5" y="1647" width="50" height="28" rx="7" fill="#2eaec9"/>
<text x="2714.5" y="1668.9" font-size="24" fill="#b4bcc9" text-anchor="start" font-weight="normal">pct_50_80_ami</text>
<rect x="2898.6" y="1647" width="50" height="28" rx="7" fill="#ff9371"/>
<text x="2958.6" y="1668.9" font-size="24" fill="#b4bcc9" text-anchor="start" font-weight="normal">pct_above_80_ami</text>
<path d="M17.5,17.3H33 M17.5,17.3H33 M45.4,29.5h-28 M11.5,2v56H51V14.8L38.4,2H11.5z M38.4,2.2v12.7H51 M45.4,41.7h-28" transform="translate(3053.16 1649.73) scale(0.5357)" fill="none" stroke="#13bcbc" stroke-width="3.73" stroke-linecap="butt" stroke-linejoin="miter"/>
<path d="M4.7,22.9L29.3,45.5L54.7,23.4M4.6,43.6L4.6,58L53.8,58L53.8,43.6M29.2,45.1L29.2,0" transform="translate(3103.96 1650.8) scale(0.5172)" fill="none" stroke="#13bcbc" stroke-width="3.87" stroke-linecap="butt" stroke-linejoin="miter"/>
<path d="M3.8,33.4 M47,18.9h9.8V8.7 M56.3,20.1 C52.1,9,40.5,0.6,26.8,2.1C12.6,3.7,1.6,16.2,2.1,30.6 M13,41.1H3.1v10.2 M3.7,39.9c4.2,11.1,15.8,19.5,29.5,18 c14.2-1.6,25.2-14.1,24.7-28.5" transform="translate(3157.29 1649.79) scale(0.5338)" fill="none" stroke="#13bcbc" stroke-width="3.75" stroke-linecap="butt" stroke-linejoin="miter"/>
<path d="M4.1,28.9h7.1l9.3-22l7.4,38l9.7-19.7l3,12.8h14.9M4.1,58h51.4" transform="translate(3211.81 1646.86) scale(0.5837)" fill="none" stroke="#13bcbc" stroke-width="3.43" stroke-linecap="butt" stroke-linejoin="miter"/>
<path d="M6.7,22.9h10V48h-10V22.9zM24.9,13h10v35h-10V13zM43.2,2h10v46h-10V2zM3.1,58h53.7" transform="translate(3268.56 1649.73) scale(0.5357)" fill="none" stroke="#13bcbc" stroke-width="3.73" stroke-linecap="butt" stroke-linejoin="miter"/>
<path d="M8.2,38.4l-8.4,4.1l30.6,15.3L60,42.5l-8.1-4.1l-21.5,11L8.2,38.4z M51.9,30l-8.1,4.2l-13.4,6.9l-13.9-6.9L8.2,30l-8.4,4.2l8.4,4.2l22.2,11l21.5-11l8.1-4.2L51.9,30z M51.9,21.7l-8.1,4.2L35.7,30l-5.3,2.8L24.9,30l-8.4-4.1l-8.3-4.2l-8.4,4.2L8.2,30l8.3,4.2l13.9,6.9l13.4-6.9l8.1-4.2l8.1-4.1L51.9,21.7zm-8.1,4.2l-8.1,4.2l-5.3,2.7L24.9,30l-8.4-4.1L8.2,21.7l22.2-11l21.5,11L43.8,25.9z M30.4,2.2L-0.2,17.5l8.4,4.1l8.3,4.2l8.4,4.2l5.5,2.7l5.3-2.7l8.1-4.2l8.1-4.2l8.1-4.1L30.4,2.2z" transform="translate(3325.4 1650.85) scale(0.4983)" fill="none" stroke="#13bcbc" stroke-width="4.01" stroke-linecap="butt" stroke-linejoin="miter"/></svg></section>
</main>
<div class="glow"></div><div class="bot"></div>
</body></html>
